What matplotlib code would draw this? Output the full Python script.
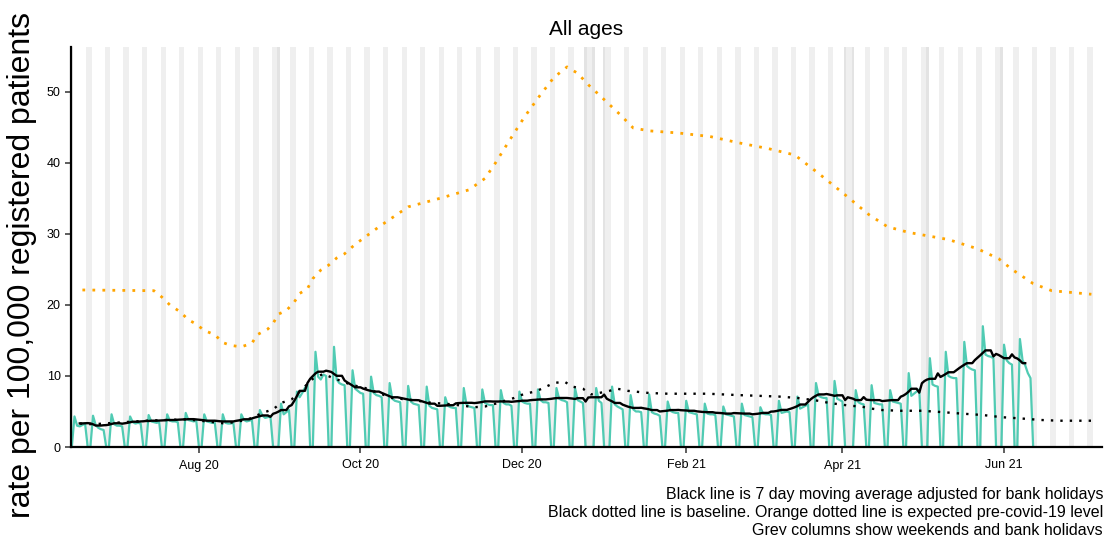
import matplotlib

matplotlib.use("Agg")
import matplotlib.dates as mdates
import matplotlib.pyplot as plt
import numpy as np
import pandas as pd

# Daily consultation rate per 100,000, one row per week (Sun..Sat), from Sun 14 Jun 2020
start_date = "2020-06-14"
weekly_rate = [
    [0, 4.3, 3.0, 2.9, 3.1, 3.3, 0],
    [0, 4.4, 3.1, 2.7, 2.5, 2.4, 0],
    [0, 4.6, 3.2, 3.0, 3.0, 2.9, 0],
    [0, 4.3, 3.5, 3.3, 3.4, 3.3, 0],
    [0, 4.5, 3.6, 3.5, 3.4, 3.5, 0],
    [0, 4.6, 3.7, 3.6, 3.6, 3.5, 0],
    [0, 4.8, 3.8, 3.7, 3.6, 3.7, 0],
    [0, 4.6, 3.6, 3.5, 3.4, 3.4, 0],
    [0, 4.6, 3.4, 3.3, 3.3, 3.4, 0],
    [0, 4.6, 3.8, 3.6, 3.7, 3.8, 0],
    [0, 5.2, 4.4, 4.1, 4.2, 4.3, 0],
    [0, 0, 6.1, 4.6, 4.9, 5.2, 0],
    [0, 7.8, 7.0, 7.6, 8.3, 8.8, 0],
    [0, 13.4, 9.9, 9.5, 10.2, 10.0, 0],
    [0, 14.1, 9.5, 9.0, 8.8, 8.7, 0],
    [0, 10.8, 8.2, 7.9, 7.6, 7.5, 0],
    [0, 9.9, 7.6, 7.3, 7.2, 7.0, 0],
    [0, 9.0, 6.8, 6.5, 6.4, 6.3, 0],
    [0, 8.6, 6.4, 6.1, 6.0, 5.9, 0],
    [0, 8.5, 5.8, 5.5, 5.4, 5.3, 0],
    [0, 7.0, 5.8, 5.6, 5.5, 5.5, 0],
    [0, 8.3, 6.0, 5.7, 5.6, 5.5, 0],
    [0, 8.1, 6.2, 6.0, 5.9, 5.9, 0],
    [0, 8.0, 6.2, 6.0, 6.0, 5.8, 0],
    [0, 7.8, 6.4, 6.2, 6.1, 6.1, 0],
    [0, 8.1, 6.6, 6.3, 6.3, 6.2, 0],
    [0, 8.3, 6.8, 6.6, 6.5, 6.3, 0],
    [0, 8.3, 6.6, 6.4, 6.2, 0, 0],
    [0, 0, 8.3, 6.5, 6.2, 0, 0],
    [0, 8.5, 6.0, 5.7, 5.5, 5.3, 0],
    [0, 7.3, 5.3, 5.0, 5.0, 4.9, 0],
    [0, 7.4, 4.9, 4.7, 4.6, 4.4, 0],
    [0, 6.4, 5.1, 4.9, 4.8, 4.8, 0],
    [0, 6.5, 4.9, 4.8, 4.7, 4.6, 0],
    [0, 6.1, 4.7, 4.6, 4.6, 4.5, 0],
    [0, 5.7, 4.6, 4.5, 4.4, 4.3, 0],
    [0, 6.1, 4.5, 4.4, 4.3, 4.2, 0],
    [0, 5.6, 4.7, 4.6, 4.6, 4.5, 0],
    [0, 6.5, 4.8, 4.9, 5.0, 4.9, 0],
    [0, 7.1, 5.4, 5.6, 5.8, 6.0, 0],
    [0, 9.0, 7.2, 7.0, 6.9, 6.9, 0],
    [0, 9.3, 6.8, 6.6, 6.4, 0, 0],
    [0, 0, 8.0, 6.3, 6.1, 6.0, 0],
    [0, 8.7, 6.2, 6.1, 6.0, 6.0, 0],
    [0, 8.0, 6.4, 6.3, 6.2, 6.1, 0],
    [0, 10.4, 7.2, 7.5, 7.8, 8.1, 0],
    [0, 0, 12.5, 8.8, 8.6, 8.5, 0],
    [0, 13.4, 10.0, 9.8, 9.7, 9.7, 0],
    [0, 14.8, 11.4, 11.1, 10.9, 10.8, 0],
    [0, 17.0, 13.0, 12.8, 12.7, 12.5, 0],
    [0, 0, 14.4, 12.2, 11.8, 11.6, 0],
    [0, 15.2, 12.2, 11.5, 10.4, 9.7, 0],
]

bank_holidays = ["2020-08-31", "2020-12-25", "2020-12-28", "2021-01-01",
                 "2021-04-02", "2021-04-05", "2021-05-03", "2021-05-31"]

baseline_dates = [
    "2020-06-17", "2020-06-22", "2020-07-12", "2020-07-27", "2020-08-04",
    "2020-08-11", "2020-08-19", "2020-08-25", "2020-08-29", "2020-09-01",
    "2020-09-05", "2020-09-13", "2020-09-17", "2020-09-20", "2020-09-28",
    "2020-10-02", "2020-10-13", "2020-10-21", "2020-10-28", "2020-11-02",
    "2020-11-09", "2020-11-13", "2020-11-17", "2020-11-21", "2020-11-28",
    "2020-12-02", "2020-12-06", "2020-12-09", "2020-12-13", "2020-12-17",
    "2020-12-20", "2020-12-24", "2020-12-27", "2021-01-02", "2021-01-06",
    "2021-01-10", "2021-01-18", "2021-01-25", "2021-02-09", "2021-02-21",
    "2021-03-08", "2021-03-15", "2021-03-23", "2021-03-27", "2021-03-31",
    "2021-04-04", "2021-04-08", "2021-04-12", "2021-04-16", "2021-04-23",
    "2021-05-01", "2021-05-09", "2021-05-16", "2021-05-24", "2021-05-31",
    "2021-06-08", "2021-06-15", "2021-06-22", "2021-07-05",
]
baseline_rate = [
    3.3, 3.2, 3.7, 3.9, 3.6,
    3.3, 3.8, 4.8, 5.3, 6.2,
    6.7, 9.6, 10.3, 9.8, 8.7,
    8.4, 6.9, 6.6, 6.2, 6.1,
    5.8, 5.6, 5.7, 6.1, 6.9,
    7.5, 7.8, 8.3, 9.0, 9.2,
    8.5, 8.2, 7.4, 7.8, 8.2,
    7.9, 7.6, 7.5, 7.5, 7.3,
    7.1, 6.9, 6.5, 6.2, 6.0,
    5.8, 5.7, 5.4, 5.2, 5.1,
    5.1, 4.9, 4.7, 4.5, 4.2,
    4.0, 3.8, 3.7, 3.7,
]

expected_dates = [
    "2020-06-18", "2020-07-15", "2020-07-18", "2020-07-21", "2020-07-25",
    "2020-07-28", "2020-07-31", "2020-08-03", "2020-08-07", "2020-08-10",
    "2020-08-13", "2020-08-17", "2020-08-21", "2020-08-23", "2020-08-27",
    "2020-08-29", "2020-08-31", "2020-09-03", "2020-09-06", "2020-09-08",
    "2020-09-11", "2020-09-13", "2020-09-16", "2020-09-19", "2020-09-22",
    "2020-09-25", "2020-09-28", "2020-09-30", "2020-10-08", "2020-10-19",
    "2020-10-31", "2020-11-11", "2020-11-17", "2020-11-21", "2020-11-26",
    "2020-12-02", "2020-12-08", "2020-12-13", "2020-12-18", "2020-12-22",
    "2020-12-26", "2021-01-01", "2021-01-07", "2021-01-12", "2021-01-18",
    "2021-01-29", "2021-02-10", "2021-02-21", "2021-03-04", "2021-03-14",
    "2021-03-23", "2021-04-01", "2021-04-11", "2021-04-18", "2021-04-26",
    "2021-05-11", "2021-05-22", "2021-05-30", "2021-06-04", "2021-06-12",
    "2021-06-19", "2021-07-04",
]
expected_rate = [
    22.1, 22.0, 21.1, 20.0, 19.0,
    17.9, 17.3, 16.4, 15.8, 14.7,
    14.3, 14.1, 14.6, 15.8, 16.6,
    17.4, 18.7, 19.2, 20.4, 21.6,
    22.3, 23.7, 24.9, 25.6, 26.6,
    27.2, 28.2, 28.8, 31.0, 33.8,
    35.0, 36.2, 37.8, 40.0, 43.0,
    46.5, 49.6, 52.0, 53.5, 52.6,
    51.0, 48.9, 46.8, 44.9, 44.5,
    44.2, 43.7, 42.8, 42.0, 41.1,
    38.5, 35.8, 32.7, 31.0, 30.2,
    29.2, 27.9, 26.5, 25.0, 23.0,
    22.0, 21.5,
]

x_ticks = ["2020-08-01", "2020-10-01", "2020-12-01", "2021-02-01", "2021-04-01", "2021-06-01"]
x_tick_labels = ["Aug 20", "Oct 20", "Dec 20", "Feb 21", "Apr 21", "Jun 21"]
y_ticks = [0, 10, 20, 30, 40, 50]

caption_lines = [
    "Black line is 7 day moving average adjusted for bank holidays",
    "Black dotted line is baseline. Orange dotted line is expected pre-covid-19 level",
    "Grey columns show weekends and bank holidays",
]

plt.rcParams["font.family"] = ["Liberation Sans", "DejaVu Sans"]

rate = np.array(weekly_rate, dtype=float).ravel()
days = pd.date_range(start_date, periods=len(rate), freq="D")
bh = pd.to_datetime(bank_holidays)
daily = pd.Series(rate, index=days)

# moving average over working days only (weekends and bank holidays left out)
working = daily.where((days.dayofweek < 5) & ~days.isin(bh))
ma = working.rolling(7, center=True, min_periods=1).mean().iloc[3:-3]

x_lo = pd.Timestamp("2020-06-13 12:00")
x_hi = pd.Timestamp("2021-07-08")

fig = plt.figure(figsize=(11.05, 5.35), dpi=100)
ax = fig.add_axes([70.5 / 1105, 1 - 447 / 535, (1102 - 70.5) / 1105, 400 / 535])

# grey columns: merge consecutive weekend / holiday days into single spans
shade_days = pd.date_range("2020-06-13", "2021-07-08", freq="D")
kinds = []
for d in shade_days:
    if d in bh:
        kinds.append("h")
    elif d.dayofweek >= 5:
        kinds.append("w")
    else:
        kinds.append(None)
shade_col = {"w": "#efefef", "h": "#e3e3e3"}
i = 0
while i < len(shade_days):
    k = kinds[i]
    if k is None:
        i += 1
        continue
    j = i
    while j + 1 < len(shade_days) and kinds[j + 1] == k:
        j += 1
    lo = mdates.date2num(shade_days[i]) - 0.5
    hi = mdates.date2num(shade_days[j]) + 0.5
    ax.axvspan(lo, hi, color=shade_col[k], lw=0, zorder=0)
    i = j + 1

ax.plot(days, rate, color="#50cbb3", lw=1.6, zorder=2)
ax.plot(pd.to_datetime(expected_dates), expected_rate, color="#ffa500", lw=2.0,
        linestyle=(0, (1, 2.6)), zorder=3)
ax.plot(pd.to_datetime(baseline_dates), baseline_rate, color="black", lw=1.7,
        linestyle=(0, (1, 3.0)), zorder=3)
ax.plot(ma.index, ma.values, color="black", lw=1.7, zorder=4)

ax.set_xlim(x_lo, x_hi)
ax.set_ylim(0, 56.3)
ax.set_xticks(pd.to_datetime(x_ticks))
ax.set_xticklabels(x_tick_labels)
ax.set_yticks(y_ticks)

for side in ("top", "right"):
    ax.spines[side].set_visible(False)
for side in ("left", "bottom"):
    ax.spines[side].set_linewidth(1.6)
    ax.spines[side].set_color("black")
ax.tick_params(axis="both", direction="out", length=4, width=1.1, color="#333333",
               labelsize=9, labelcolor="black")
ax.tick_params(axis="x", pad=5)
ax.tick_params(axis="y", pad=3)

ax.set_title("All ages", fontsize=15, pad=9,
             family=["Liberation Sans Narrow", "Liberation Sans", "DejaVu Sans"])

fig.text(22 / 1105, 1 - 265 / 535, "rate per 100,000 registered patients",
         rotation=90, ha="center", va="center", fontsize=23)

for k, line in enumerate(caption_lines):
    fig.text(1103 / 1105, 1 - (495 + 18 * k) / 535, line, ha="right", va="center",
             fontsize=11.5)

fig.savefig("out.png", dpi=100)
